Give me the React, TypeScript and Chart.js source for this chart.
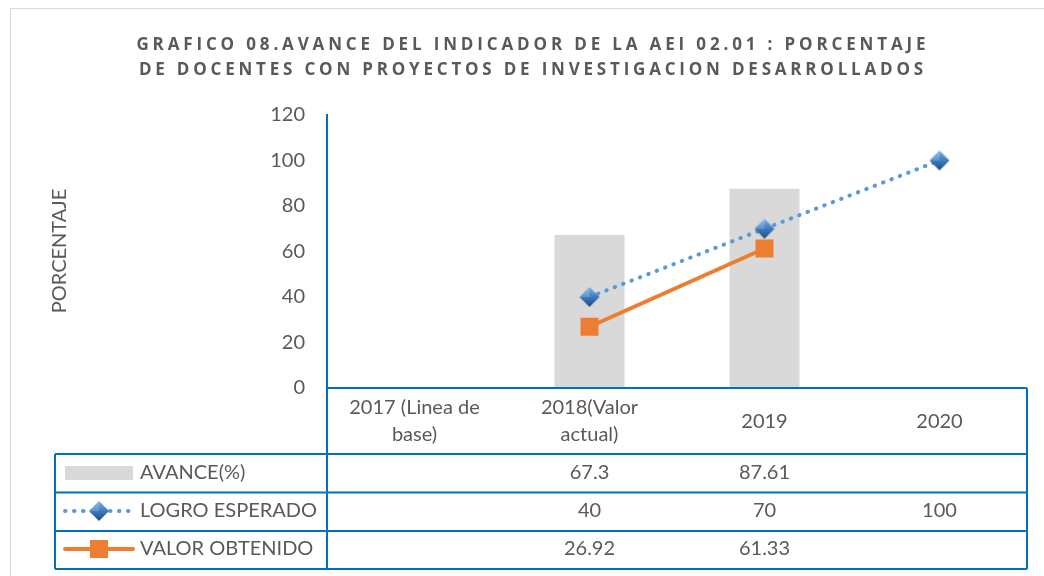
import React, { useEffect, useRef } from "react";
import { Chart, registerables } from "chart.js";

Chart.register(...registerables);

// ---- data ----
const titleLines = [
  "GRAFICO 08.AVANCE DEL INDICADOR DE LA AEI 02.01 : PORCENTAJE",
  "DE DOCENTES CON PROYECTOS DE INVESTIGACION DESARROLLADOS",
];
const categories: string[][] = [
  ["2017 (Linea de", "base)"],
  ["2018(Valor", "actual)"],
  ["2019"],
  ["2020"],
];
const avance: (number | null)[] = [null, 67.3, 87.61, null];
const logroEsperado: (number | null)[] = [null, 40, 70, 100];
const valorObtenido: (number | null)[] = [null, 26.92, 61.33, null];
const seriesNames = ["AVANCE(%)", "LOGRO ESPERADO", "VALOR OBTENIDO"];
const yAxisTitle = "PORCENTAJE";
const yMin = 0;
const yMax = 120;
const yStep = 20;

// ---- styles ----
const TEXT = "#595959";
const BLUE = "#0070C0";
const BAR = "#D9D9D9";
const DOT = "#5B9BD5";
const ORANGE = "#ED7D31";
const FONT_FAMILY = "Lato, 'Open Sans', sans-serif";

function makeDiamond(r: number): HTMLCanvasElement {
  const c = document.createElement("canvas");
  const s = r * 2 + 2;
  c.width = s;
  c.height = s;
  const g = c.getContext("2d")!;
  const cx = s / 2;
  const cy = s / 2;
  const grad = g.createLinearGradient(cx, cy - r, cx, cy + r);
  grad.addColorStop(0, "#7FB2E5");
  grad.addColorStop(0.5, "#3D7CC0");
  grad.addColorStop(1, "#1D4A78");
  g.beginPath();
  g.moveTo(cx, cy - r);
  g.lineTo(cx + r, cy);
  g.lineTo(cx, cy + r);
  g.lineTo(cx - r, cy);
  g.closePath();
  g.fillStyle = grad;
  g.fill();
  g.beginPath();
  g.moveTo(cx, cy - r);
  g.lineTo(cx - r, cy);
  g.lineTo(cx, cy);
  g.closePath();
  g.fillStyle = "rgba(255,255,255,0.18)";
  g.fill();
  return c;
}

export default function App() {
  const ref = useRef<HTMLCanvasElement | null>(null);

  useEffect(() => {
    if (!ref.current) return;
    const diamond = makeDiamond(10);

    const tablePlugin = {
      id: "tablePlugin",
      afterDraw(chart: any) {
        const ctx: CanvasRenderingContext2D = chart.ctx;
        const area = chart.chartArea;
        const xs = chart.scales.x;
        const left = area.left;
        const right = area.right;
        const bottom = area.bottom;
        const tableLeft = 55;
        const headerBottom = 454;
        const rowLines = [headerBottom, 492.5, 531, 569];
        const rowCenters = [473, 511, 549];
        ctx.save();

        // outer border
        ctx.strokeStyle = "#D9D9D9";
        ctx.lineWidth = 1;
        ctx.strokeRect(10.5, 8.5, 1100, 700);

        // title
        ctx.fillStyle = TEXT;
        ctx.textAlign = "center";
        ctx.textBaseline = "middle";
        const titleWidths = [793, 788];
        const titleY = [45, 70];
        titleLines.forEach((t, i) => {
          ctx.font = `bold 17px 'Open Sans', sans-serif`;
          (ctx as any).letterSpacing = "0px";
          const w = ctx.measureText(t).width;
          const ls = (titleWidths[i] - w) / t.length;
          (ctx as any).letterSpacing = `${ls}px`;
          ctx.fillText(t, 531 + ls / 2, titleY[i]);
        });
        (ctx as any).letterSpacing = "0px";

        // y axis title
        ctx.save();
        ctx.translate(60, 251);
        ctx.rotate(-Math.PI / 2);
        ctx.font = `20px ${FONT_FAMILY}`;
        ctx.fillStyle = TEXT;
        ctx.fillText(yAxisTitle, 0, 0);
        ctx.restore();

        // table lines
        ctx.strokeStyle = BLUE;
        ctx.lineWidth = 2;
        ctx.beginPath();
        ctx.moveTo(left, bottom);
        ctx.lineTo(right, bottom);
        ctx.moveTo(left, bottom);
        ctx.lineTo(left, rowLines[3]);
        ctx.moveTo(right, bottom);
        ctx.lineTo(right, rowLines[3]);
        ctx.moveTo(tableLeft, headerBottom);
        ctx.lineTo(tableLeft, rowLines[3]);
        rowLines.forEach((y) => {
          ctx.moveTo(tableLeft, y);
          ctx.lineTo(right, y);
        });
        ctx.stroke();

        // header category labels
        ctx.font = `20px ${FONT_FAMILY}`;
        ctx.fillStyle = TEXT;
        ctx.textAlign = "center";
        categories.forEach((lines, i) => {
          const cx = xs.getPixelForValue(i);
          if (lines.length === 2) {
            ctx.fillText(lines[0], cx, 408);
            ctx.fillText(lines[1], cx, 435);
          } else {
            ctx.fillText(lines[0], cx, 422);
          }
        });

        // values
        const seriesData = [avance, logroEsperado, valorObtenido];
        seriesData.forEach((arr, r) => {
          arr.forEach((v, i) => {
            if (v === null) return;
            ctx.fillText(String(v), xs.getPixelForValue(i), rowCenters[r]);
          });
        });

        // legend labels
        ctx.textAlign = "left";
        seriesNames.forEach((n, r) => {
          ctx.fillText(n, 140, rowCenters[r]);
        });

        // legend symbols
        ctx.fillStyle = BAR;
        ctx.fillRect(65, rowCenters[0] - 7, 68, 14);

        ctx.strokeStyle = DOT;
        ctx.lineWidth = 4;
        ctx.lineCap = "round";
        ctx.setLineDash([0.5, 8.5]);
        ctx.beginPath();
        ctx.moveTo(65, rowCenters[1]);
        ctx.lineTo(133, rowCenters[1]);
        ctx.stroke();
        ctx.setLineDash([]);
        ctx.drawImage(diamond, 99 - diamond.width / 2, rowCenters[1] - diamond.height / 2);

        ctx.strokeStyle = ORANGE;
        ctx.lineWidth = 4;
        ctx.lineCap = "round";
        ctx.beginPath();
        ctx.moveTo(65, rowCenters[2]);
        ctx.lineTo(133, rowCenters[2]);
        ctx.stroke();
        ctx.fillStyle = ORANGE;
        ctx.fillRect(90, rowCenters[2] - 9, 18, 18);

        ctx.restore();
      },
    };

    const chart = new Chart(ref.current, {
      type: "bar",
      data: {
        labels: categories.map((c) => c.join(" ")),
        datasets: [
          {
            type: "line",
            label: seriesNames[2],
            data: valorObtenido,
            borderColor: ORANGE,
            backgroundColor: ORANGE,
            borderWidth: 4,
            pointStyle: "rect",
            pointRadius: 12.7,
            pointBorderWidth: 0,
            pointBackgroundColor: ORANGE,
            order: 1,
          } as any,
          {
            type: "line",
            label: seriesNames[1],
            data: logroEsperado,
            borderColor: DOT,
            borderWidth: 4,
            borderDash: [0.5, 8.5],
            borderCapStyle: "round",
            pointStyle: diamond,
            order: 2,
          } as any,
          {
            type: "bar",
            label: seriesNames[0],
            data: avance,
            backgroundColor: BAR,
            categoryPercentage: 1,
            barPercentage: 0.4,
            order: 3,
          } as any,
        ],
      },
      options: {
        responsive: false,
        animation: false,
        events: [],
        layout: { padding: { left: 0, top: 115, right: 17, bottom: 188 } },
        plugins: {
          legend: { display: false },
          title: { display: false },
          tooltip: { enabled: false },
        },
        scales: {
          x: { display: false },
          y: {
            min: yMin,
            max: yMax,
            ticks: {
              stepSize: yStep,
              color: TEXT,
              font: { size: 20, family: FONT_FAMILY },
              padding: 22,
            },
            grid: { display: false, drawTicks: false },
            border: { display: true, color: BLUE, width: 2 },
            afterFit: (scale: any) => {
              scale.width = 327;
            },
          },
        },
      },
      plugins: [tablePlugin],
    });
    return () => chart.destroy();
  }, []);

  return (
    <div style={{ position: "absolute", left: 0, top: 0, width: 1044, height: 576, background: "#fff" }}>
      <canvas ref={ref} width={1044} height={576} />
    </div>
  );
}
